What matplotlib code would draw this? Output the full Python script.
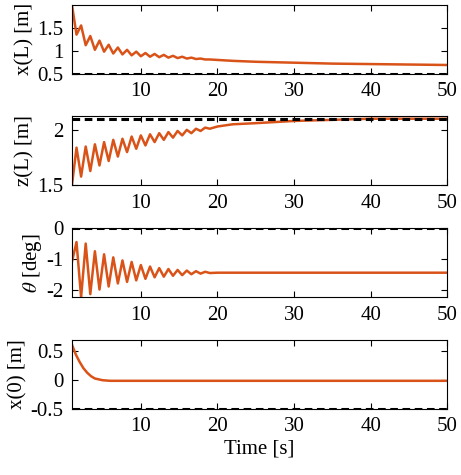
import matplotlib
matplotlib.use('Agg')
import matplotlib.pyplot as plt

plt.rcParams['font.family'] = ['Liberation Serif', 'DejaVu Serif']
plt.rcParams['mathtext.fontset'] = 'stix'
plt.rcParams['font.size'] = 15

# time samples (peaks / troughs of the oscillations, then the slow tail)
t_osc = [1.0, 1.6, 2.2, 2.8, 3.4, 4.0, 4.6, 5.2, 5.8, 6.4, 7.0, 7.6, 8.2, 8.8, 9.4, 10.0,
         10.6, 11.2, 11.8, 12.4, 13.0, 13.6, 14.2, 14.8, 15.4, 16.0, 16.6, 17.2, 17.8, 18.4, 19.0]
t_tail = [20, 22, 25, 30, 35, 40, 45, 50]
t = t_osc + t_tail

x_L = [2.0, 1.35, 1.55, 1.12, 1.32, 1.02, 1.22, 0.98, 1.13, 0.94, 1.07, 0.92, 1.02, 0.9, 0.98, 0.88,
       0.95, 0.87, 0.93, 0.86, 0.91, 0.85, 0.89, 0.84, 0.87, 0.83, 0.85, 0.82, 0.83, 0.81, 0.81,
       0.80, 0.78, 0.76, 0.74, 0.72, 0.71, 0.70, 0.69]
z_L = [1.5, 1.84, 1.58, 1.85, 1.63, 1.87, 1.68, 1.89, 1.72, 1.91, 1.76, 1.92, 1.80, 1.94, 1.83, 1.95,
       1.86, 1.96, 1.89, 1.97, 1.91, 1.98, 1.93, 1.99, 1.95, 2.00, 1.97, 2.01, 1.99, 2.02, 2.01,
       2.03, 2.05, 2.06, 2.08, 2.09, 2.10, 2.10, 2.10]
theta = [-1.1, -0.45, -2.25, -0.5, -2.15, -0.75, -2.0, -0.85, -1.9, -0.95, -1.8, -1.05, -1.75, -1.1, -1.7,
         -1.2, -1.65, -1.25, -1.6, -1.3, -1.58, -1.33, -1.55, -1.36, -1.53, -1.38, -1.5, -1.4, -1.48, -1.42,
         -1.46, -1.45, -1.45, -1.45, -1.45, -1.45, -1.45, -1.45, -1.45]
t_x0 = [1.0, 1.5, 2.0, 2.5, 3.0, 3.5, 4.0, 5.0, 6.0, 8.0, 50.0]
x_0 = [0.62, 0.45, 0.32, 0.21, 0.13, 0.07, 0.03, 0.0, -0.01, -0.01, -0.01]

panels = [
    (t, x_L, 0.5, (0.5, 2.0), [0.5, 1, 1.5], ['0.5', '1', '1.5'], 'x(L) [m]'),
    (t, z_L, 2.1, (1.5, 2.12), [1.5, 2], ['1.5', '2'], 'z(L) [m]'),
    (t, theta, 0.0, (-2.25, 0.0), [-2, -1, 0], ['-2', '-1', '0'], r'$\theta$ [deg]'),
    (t_x0, x_0, -0.5, (-0.5, 0.7), [-0.5, 0, 0.5], ['-0.5', '0', '0.5'], 'x(0) [m]'),
]

fig, axes = plt.subplots(4, 1, figsize=(4.61, 4.75), dpi=100)
for ax, (tt, yy, ref, ylim, yt, ytl, lab) in zip(axes, panels):
    ax.plot(tt, yy, color='#D95319', lw=1.8)
    ax.axhline(ref, color='black', ls='--', lw=2.2, dashes=(2.5, 1.5))
    ax.set_xlim(1, 50)
    ax.set_ylim(*ylim)
    ax.set_xticks([10, 20, 30, 40, 50])
    ax.set_yticks(yt)
    ax.set_yticklabels(ytl)
    ax.set_ylabel(lab, labelpad=2)
    ax.tick_params(direction='in', top=True, right=True, length=4, pad=6)
axes[-1].set_xlabel('Time [s]', labelpad=2)

fig.subplots_adjust(left=0.156, right=0.97, top=0.99, bottom=0.139, hspace=0.62)
fig.savefig('out.png')
